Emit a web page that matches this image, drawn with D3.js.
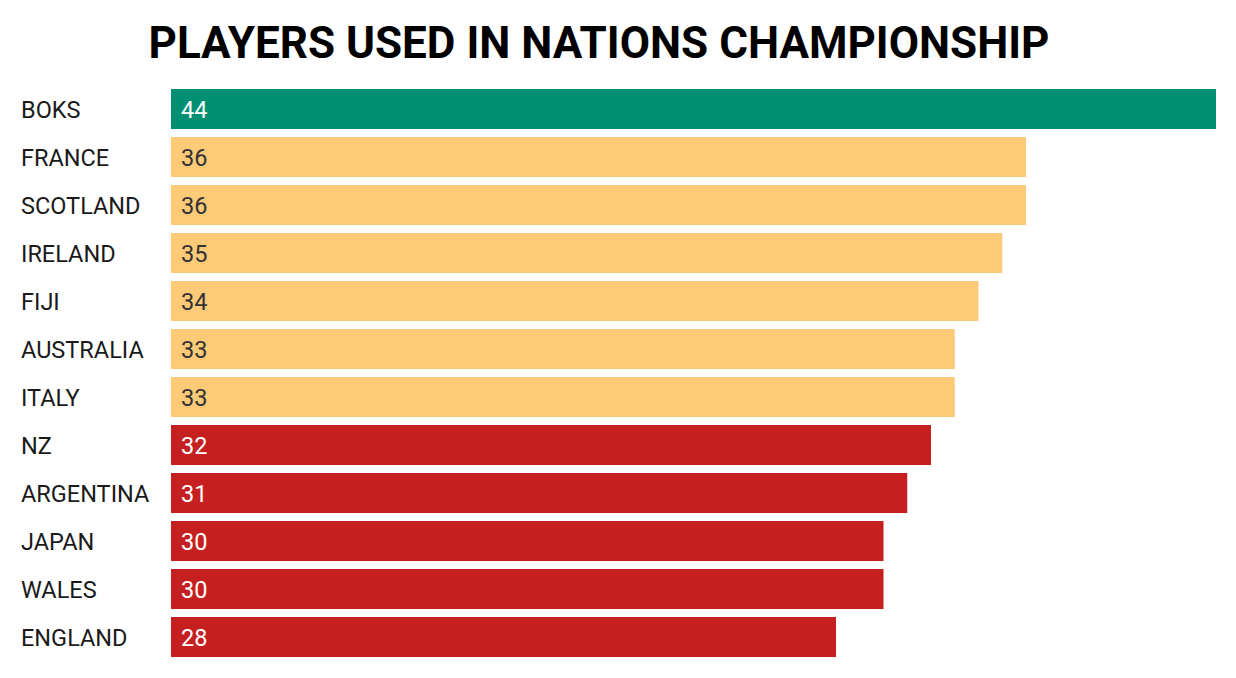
<!DOCTYPE html>
<html>
<head>
<meta charset="utf-8">
<script src="https://cdn.jsdelivr.net/npm/d3@7"></script>
<style>
  body { margin: 0; background: #fff; }
  text { font-family: Roboto, "Noto Sans", sans-serif; }
</style>
</head>
<body>
<div id="chart"></div>
<script>
// data
var teams = ["BOKS", "FRANCE", "SCOTLAND", "IRELAND", "FIJI", "AUSTRALIA", "ITALY",
  "NZ", "ARGENTINA", "JAPAN", "WALES", "ENGLAND"];
var players = [44, 36, 36, 35, 34, 33, 33, 32, 31, 30, 30, 28];
var groups = ["top", "mid", "mid", "mid", "mid", "mid", "mid",
  "low", "low", "low", "low", "low"];

var fills = { top: "#008F73", mid: "#FDCA78", low: "#C61F1F" };
var valueColors = { top: "#ffffff", mid: "#333333", low: "#ffffff" };

var width = 1236, height = 678;
var margin = { top: 89, right: 20, bottom: 21, left: 171 };
var barH = 40, gap = 8;

var svg = d3.select("#chart")
  .append("svg")
  .attr("width", width)
  .attr("height", height);

// title
svg.append("text")
  .attr("x", 599)
  .attr("y", 58)
  .attr("text-anchor", "middle")
  .style("font-size", "44px")
  .style("font-weight", "700")
  .style("fill", "#000")
  .text("PLAYERS USED IN NATIONS CHAMPIONSHIP");

var x = d3.scaleLinear()
  .domain([0, 44])
  .range([margin.left, width - margin.right]);

var y = d3.scaleBand()
  .domain(teams)
  .range([margin.top, margin.top + (barH + gap) * teams.length - gap])
  .paddingInner(gap / (barH + gap))
  .paddingOuter(0);

var rows = svg.selectAll(".row")
  .data(teams)
  .enter()
  .append("g")
  .attr("class", "row");

rows.append("rect")
  .attr("x", x(0))
  .attr("y", function (d) { return y(d); })
  .attr("width", function (d, i) { return x(players[i]) - x(0); })
  .attr("height", y.bandwidth())
  .style("fill", function (d, i) { return fills[groups[i]]; });

// team names on the left
rows.append("text")
  .attr("x", 21)
  .attr("y", function (d) { return y(d) + y.bandwidth() / 2; })
  .attr("dy", "0.37em")
  .style("font-size", "23.5px")
  .style("fill", "#1a1a1a")
  .text(function (d) { return d; });

// values inside the bars
rows.append("text")
  .attr("x", x(0) + 10)
  .attr("y", function (d) { return y(d) + y.bandwidth() / 2; })
  .attr("dy", "0.37em")
  .style("font-size", "23.5px")
  .style("fill", function (d, i) { return valueColors[groups[i]]; })
  .text(function (d, i) { return players[i]; });
</script>
</body>
</html>
